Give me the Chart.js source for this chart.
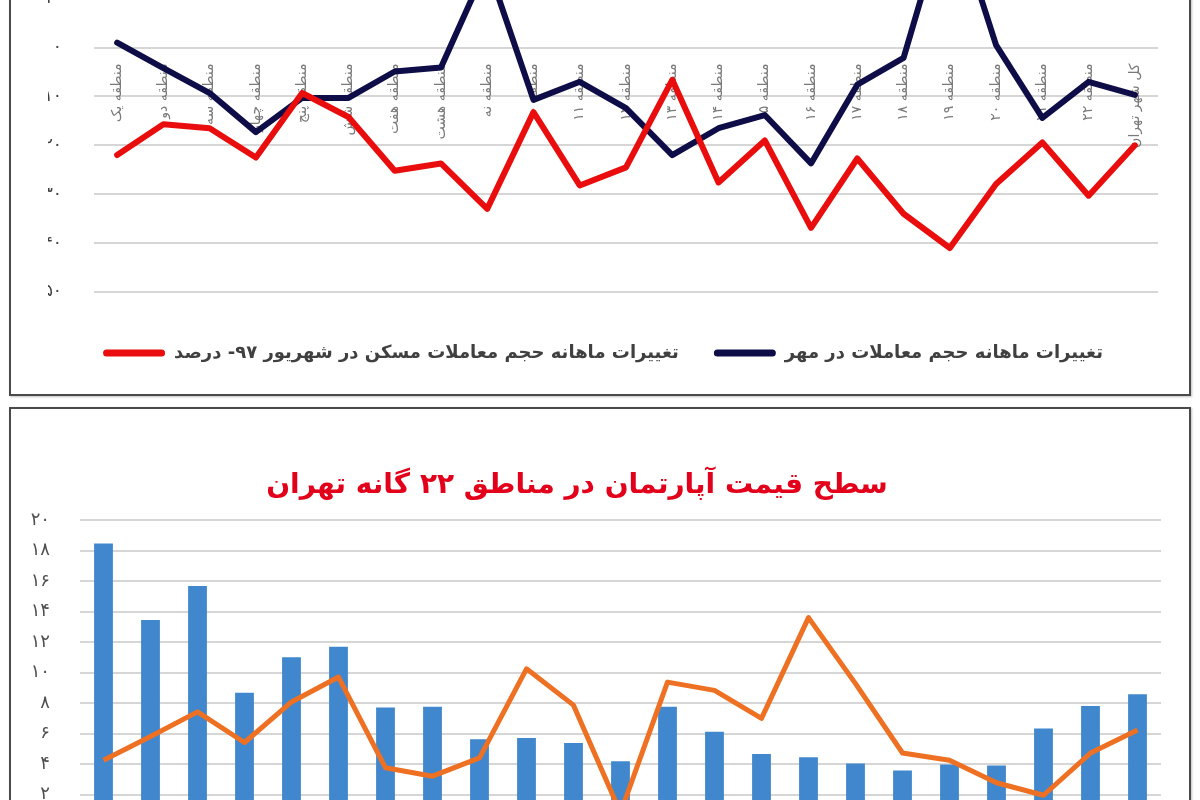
<!DOCTYPE html>
<html lang="fa">
<head>
<meta charset="utf-8">
<script src="https://cdn.jsdelivr.net/npm/chart.js@4/dist/chart.umd.min.js"></script>
<style>
html,body{margin:0;padding:0;width:1200px;height:800px;overflow:hidden;background:#fff;}
.panel{position:absolute;left:9px;width:1178px;border:2px solid #4a4a4a;background:#fff;box-shadow:1px 1px 2px rgba(0,0,0,0.25);}
#p1{top:-200px;height:592px;}
#p2{top:407px;height:520px;}
canvas{display:block;}
#title2{position:absolute;left:0;top:466px;width:1154px;text-align:center;direction:rtl;
  font:bold 28px "DejaVu Sans",sans-serif;line-height:36px;color:#e2001a;}
</style>
</head>
<body>
<div class="panel" id="p1"><canvas id="c1" width="1178" height="592" dir="ltr"></canvas></div>
<div class="panel" id="p2"><canvas id="c2" width="1178" height="520" dir="ltr"></canvas></div>
<div id="title2">سطح قیمت آپارتمان در مناطق ۲۲ گانه تهران</div>
<script>
// ---- data ----
const zones = ['منطقه یک','منطقه دو','منطقه سه','منطقه چهار','منطقه پنج','منطقه شش','منطقه هفت','منطقه هشت','منطقه نه',
  'منطقه ۱۰','منطقه ۱۱','منطقه ۱۲','منطقه ۱۳','منطقه ۱۴','منطقه ۱۵','منطقه ۱۶','منطقه ۱۷','منطقه ۱۸','منطقه ۱۹',
  'منطقه ۲۰','منطقه ۲۱','منطقه ۲۲','کل شهر تهران'];
const shahrivarLabel = 'تغییرات ماهانه حجم معاملات مسکن در شهریور ۹۷- درصد';
const mehrLabel = 'تغییرات ماهانه حجم معاملات در مهر';
const shahrivar = [-22, -15.7, -16.5, -22.5, -9.3, -14.2, -25.2, -23.7, -33, -13.2, -28.2, -24.5, -6.6, -27.6, -19, -36.9, -22.7, -34, -41, -27.9, -19.4, -30.3, -20];
const mehr = [1, -4.2, -9.3, -17.3, -10.3, -10.3, -4.9, -4.1, 17, -10.7, -7, -12.4, -22, -16.5, -13.8, -23.7, -7.6, -2.1, 30, 0.5, -14.4, -7, -9.7];
const topTicks = {min: -50, max: 40, step: 10};

const priceTitle = 'سطح قیمت آپارتمان در مناطق ۲۲ گانه تهران';
const priceBars = [18.46, 13.44, 15.67, 8.68, 11.0, 11.69, 7.71, 7.75, 5.63, 5.71, 5.37, 4.18, 7.75, 6.12, 4.65, 4.44, 4.03, 3.57, 3.96, 3.9, 6.32, 7.81, 8.57];
const priceLine = [4.24, 5.8, 7.42, 5.41, 8.07, 9.7, 3.75, 3.2, 4.4, 10.24, 7.86, 0.8, 9.37, 8.83, 6.99, 13.6, 9.27, 4.72, 4.24, 2.77, 1.95, 4.72, 6.23];
const bottomTicks = {min: 0, max: 20, step: 2};

const faDigits = '۰۱۲۳۴۵۶۷۸۹';
const toFa = v => (v < 0 ? '-' : '') + String(Math.abs(v)).replace(/\d/g, d => faDigits[d]);

// ---- top chart ----
new Chart(document.getElementById('c1'), {
  type: 'line',
  data: {
    labels: zones,
    datasets: [
      {label: shahrivarLabel, data: shahrivar, borderColor: '#ea0d0d', backgroundColor: '#ea0d0d',
       borderWidth: 6, pointRadius: 0, tension: 0, borderJoinStyle: 'round', borderCapStyle: 'round'},
      {label: mehrLabel, data: mehr, borderColor: '#0e0d48', backgroundColor: '#0e0d48',
       borderWidth: 6, pointRadius: 0, tension: 0, borderJoinStyle: 'round', borderCapStyle: 'round'}
    ]
  },
  options: {
    responsive: false, animation: false, maintainAspectRatio: false,
    layout: {padding: {left: 37, right: 31, top: 50, bottom: 22}},
    scales: {
      x: {
        position: {y: 0}, offset: true,
        grid: {display: false, drawTicks: false}, border: {display: false},
        ticks: {autoSkip: false, minRotation: 90, maxRotation: 90, padding: 16, color: '#7a7a7a',
                font: {family: 'DejaVu Sans', size: 14}},
        afterFit: s => { s.height = 1; }
      },
      y: {
        min: topTicks.min, max: topTicks.max,
        grid: {color: '#d6d6d6', lineWidth: 2, drawTicks: false}, border: {display: false},
        ticks: {stepSize: topTicks.step, padding: 32, color: '#404040', callback: v => toFa(v),
                font: {family: 'DejaVu Sans', size: 17}},
        afterFit: s => { s.width = 46; }
      }
    },
    plugins: {
      tooltip: {enabled: false},
      legend: {
        position: 'bottom',
        title: {display: true, text: '', padding: {top: 7, bottom: 0}, font: {size: 10, lineHeight: 1}},
        labels: {
          boxWidth: 62, boxHeight: 7, padding: 35, color: '#404040',
          font: {family: 'DejaVu Sans', size: 18, weight: 'bold'},
          useBorderRadius: true, borderRadius: 3.5,
          generateLabels: chart => chart.data.datasets.map((ds, i) => ({
            text: ds.label, fillStyle: ds.borderColor, strokeStyle: ds.borderColor, lineWidth: 0,
            borderRadius: 3.5, datasetIndex: i, hidden: false, fontColor: '#404040'}))
        }
      }
    }
  }
});

// ---- bottom chart ----
new Chart(document.getElementById('c2'), {
  type: 'bar',
  data: {
    labels: zones,
    datasets: [
      {type: 'line', label: 'line', data: priceLine, borderColor: '#ee7022', backgroundColor: '#ee7022',
       borderWidth: 5, pointRadius: 0, tension: 0, order: 1, borderJoinStyle: 'round'},
      {type: 'bar', label: 'bars', data: priceBars, backgroundColor: '#4187cd',
       barPercentage: 0.4, categoryPercentage: 1.0, order: 2}
    ]
  },
  options: {
    responsive: false, animation: false, maintainAspectRatio: false,
    layout: {padding: {left: 20, right: 28, top: 111, bottom: 0}},
    scales: {
      x: {
        grid: {display: false, drawTicks: false}, border: {display: false},
        ticks: {autoSkip: false, minRotation: 90, maxRotation: 90, padding: 10, color: '#7a7a7a',
                font: {family: 'DejaVu Sans', size: 14}},
        afterFit: s => { s.height = 104; }
      },
      y: {
        min: bottomTicks.min, max: bottomTicks.max,
        grid: {color: '#d6d6d6', lineWidth: 2, drawTicks: false}, border: {display: false},
        ticks: {stepSize: bottomTicks.step, padding: 30, color: '#505050', callback: v => toFa(v),
                font: {family: 'DejaVu Sans', size: 18}},
        afterFit: s => { s.width = 49; }
      }
    },
    plugins: {legend: {display: false}, tooltip: {enabled: false}, title: {display: false, text: priceTitle}}
  }
});
</script>
</body>
</html>
